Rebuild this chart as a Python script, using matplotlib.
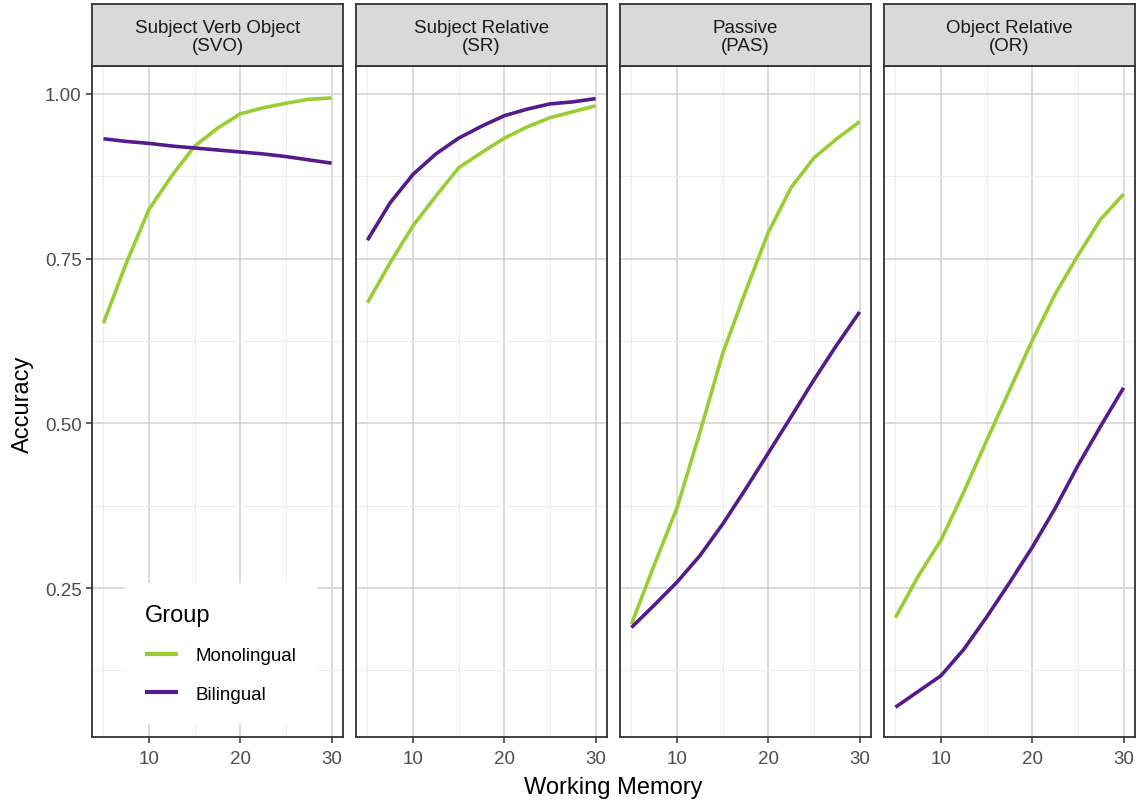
import numpy as np
import matplotlib.pyplot as plt

plt.rcParams['font.family'] = ['Liberation Sans', 'DejaVu Sans']

# Working memory values at which the fitted curves were read
memory = [5, 7.5, 10, 12.5, 15, 17.5, 20, 22.5, 25, 27.5, 30]

titles = ["Subject Verb Object\n(SVO)", "Subject Relative\n(SR)",
          "Passive\n(PAS)", "Object Relative\n(OR)"]

# predicted accuracy, monolingual group
mono_svo = [0.652, 0.743, 0.825, 0.876, 0.921, 0.948, 0.970, 0.979, 0.986, 0.992, 0.994]
mono_sr = [0.683, 0.744, 0.800, 0.845, 0.888, 0.911, 0.933, 0.950, 0.964, 0.973, 0.982]
mono_pas = [0.195, 0.285, 0.372, 0.486, 0.606, 0.700, 0.790, 0.858, 0.903, 0.932, 0.958]
mono_or = [0.205, 0.268, 0.323, 0.396, 0.474, 0.550, 0.626, 0.696, 0.755, 0.810, 0.848]

# predicted accuracy, bilingual group
bi_svo = [0.932, 0.928, 0.925, 0.921, 0.918, 0.915, 0.912, 0.909, 0.905, 0.900, 0.895]
bi_sr = [0.778, 0.835, 0.878, 0.909, 0.933, 0.951, 0.967, 0.977, 0.985, 0.988, 0.993]
bi_pas = [0.190, 0.224, 0.259, 0.299, 0.347, 0.400, 0.455, 0.510, 0.566, 0.619, 0.669]
bi_or = [0.069, 0.093, 0.117, 0.157, 0.206, 0.258, 0.312, 0.371, 0.436, 0.496, 0.554]

mono_all = [mono_svo, mono_sr, mono_pas, mono_or]
bi_all = [bi_svo, bi_sr, bi_pas, bi_or]

green = '#9ACD32'
purple = '#551A8B'

W, H = 1138, 803
fig = plt.figure(figsize=(W / 100, H / 100), dpi=100)

for i in range(4):
    left = 92 + i * 264
    ax = fig.add_axes([left / W, 1 - 738 / H, 251 / W, (738 - 67) / H])
    ax.set_xlim(3.75, 31.25)
    ax.set_ylim(0.0238, 1.0425)
    ax.set_xticks([10, 20, 30])
    ax.set_xticks([5, 15, 25], minor=True)
    ax.set_yticks([0.25, 0.5, 0.75, 1.0])
    ax.set_yticks([0.125, 0.375, 0.625, 0.875], minor=True)
    ax.grid(which='major', color='#D4D4D4', linewidth=1.2)
    ax.grid(which='minor', color='#EDEDED', linewidth=0.8)
    ax.set_axisbelow(True)
    for s in ax.spines.values():
        s.set_color('#333333')
        s.set_linewidth(1.3)
    ax.tick_params(which='major', length=4.5, width=1.1, color='#333333',
                   labelsize=13.5, labelcolor='#4D4D4D', pad=3)
    ax.tick_params(axis='x', which='major', pad=5)
    ax.tick_params(which='minor', length=0)
    if i == 0:
        ax.set_yticklabels(['0.25', '0.50', '0.75', '1.00'])
    else:
        ax.tick_params(axis='y', which='major', length=0, labelleft=False)

    ax.plot(memory, mono_all[i], color=green, lw=2.6, solid_capstyle='butt',
            solid_joinstyle='round', label='Monolingual')
    ax.plot(memory, bi_all[i], color=purple, lw=2.6, solid_capstyle='butt',
            solid_joinstyle='round', label='Bilingual')

    # facet strip
    sax = fig.add_axes([left / W, 1 - 67 / H, 251 / W, (67 - 5) / H])
    sax.set_facecolor('#D9D9D9')
    sax.set_xticks([])
    sax.set_yticks([])
    for s in sax.spines.values():
        s.set_color('#333333')
        s.set_linewidth(1.3)
    sax.text(0.5, 0.47, titles[i], ha='center', va='center', fontsize=13.5,
             color='#1A1A1A', linespacing=1.08, transform=sax.transAxes)

    if i == 0:
        leg = ax.legend(title='Group', loc='lower left',
                        bbox_to_anchor=(0.13, 0.02), fontsize=13.5,
                        title_fontsize=17, frameon=True, facecolor='white',
                        edgecolor='none', framealpha=1, fancybox=False,
                        handlelength=1.75, handletextpad=0.95,
                        labelspacing=1.15, borderpad=1.1, borderaxespad=0)
        leg._legend_box.align = 'left'
        for line in leg.get_lines():
            line.set_linewidth(3)

fig.text(0.5 * (92 + 1135) / W, 1 - 788 / H, 'Working Memory', ha='center',
         va='center', fontsize=17)
fig.text(23 / W, 1 - 404 / H, 'Accuracy', ha='center', va='center',
         rotation=90, fontsize=17)

fig.savefig('out.png', dpi=100, facecolor='white')
